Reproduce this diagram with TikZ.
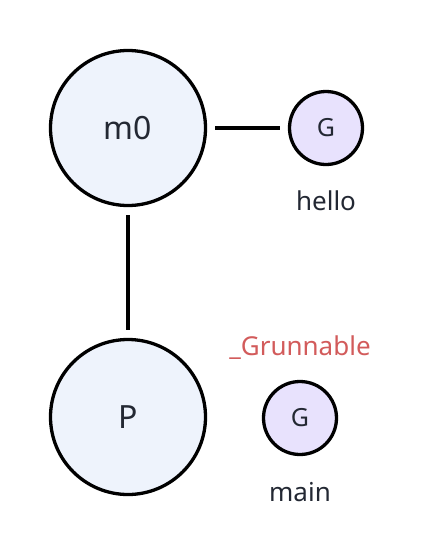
\documentclass[tikz,border=0pt]{standalone}
\usepackage{fontspec}
\setmainfont{Noto Sans}
\usepackage{xcolor}
\usetikzlibrary{positioning}
\definecolor{gmInk}{HTML}{232833}
\definecolor{gmBlue}{HTML}{EEF3FC}
\definecolor{gmLilac}{HTML}{E8E2FD}
\definecolor{gmRed}{HTML}{D25B5B}

\begin{document}
\begin{tikzpicture}[
  x=1pt, y=-1pt,
  font=\fontsize{26}{30}\selectfont,
  bigproc/.style={circle, draw=black, line width=3.3pt, fill=gmBlue,
                  minimum size=155pt, inner sep=0pt, text=gmInk,
                  font=\fontsize{32}{36}\selectfont},
  gor/.style={circle, draw=black, line width=3.3pt, fill=gmLilac,
              minimum size=73pt, inner sep=0pt, text=gmInk,
              font=\fontsize{25}{28}\selectfont},
  tag/.style={text=gmInk, inner sep=0pt},
  link/.style={draw=black, line width=3.3pt, shorten <=8pt, shorten >=8pt}
]
  \useasboundingbox (0,0) rectangle (426,560);
  \node[bigproc] (m0) at (128,128) {m0};
  \node[gor] (g1) at (326,128) {G};
  \node[tag] (hello) at (326,201) {hello};
  \node[bigproc] (p) at (128,417) {P};
  \node[tag, text=gmRed] (runq) at (300,348) {\_Grunnable};
  \node[gor] (g0) at (300,418) {G};
  \node[tag] (main) at (300,492) {main};
  \draw[link] (m0) -- (g1);
  \draw[link] (m0) -- (p);
\end{tikzpicture}
\end{document}
